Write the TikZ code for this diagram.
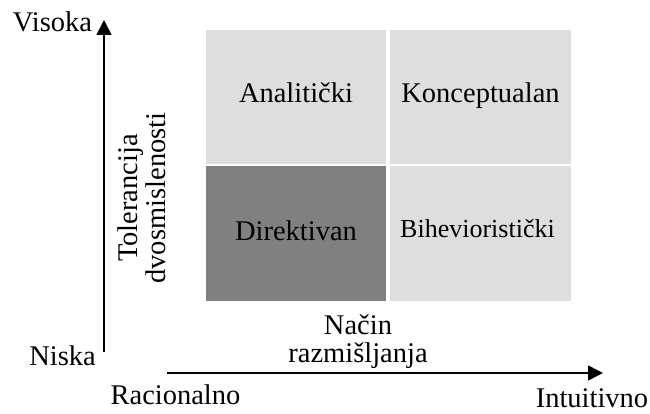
\documentclass[tikz,border=0pt]{standalone}
\usepackage{fontspec}
\setmainfont{Liberation Serif}
\usetikzlibrary{arrows.meta}
\definecolor{lightq}{HTML}{DEDEDE}
\definecolor{darkq}{HTML}{808080}
\begin{document}
\begin{tikzpicture}[x=1pt,y=-1pt,
  lbl/.style={font=\fontsize{28.5}{28}\selectfont,inner sep=0pt,anchor=base},
  smalllbl/.style={font=\fontsize{26}{28}\selectfont,inner sep=0pt,anchor=base},
  axis/.style={line width=1.6pt,-{Triangle[length=15pt,width=15pt]}}]
\useasboundingbox (0,0) rectangle (650,414);
% quadrants
\fill[lightq] (206,30) rectangle (386,164);
\fill[lightq] (390,30) rectangle (571,164);
\fill[darkq] (206,166) rectangle (386,301);
\fill[lightq] (390,166) rectangle (571,301);
\node[lbl] (an) at (296,103) {Analitički};
\node[lbl] (ko) at (480.5,103) {Konceptualan};
\node[lbl] (di) at (296,240) {Direktivan};
\node[smalllbl] (bi) at (477.5,237) {Bihevioristički};
% axes
\coordinate (vbot) at (104,352);
\coordinate (vtop) at (104,20);
\coordinate (hleft) at (167,373);
\coordinate (hright) at (603,373);
\draw[axis] (vbot) -- (vtop);
\draw[axis] (hleft) -- (hright);
% labels
\node[lbl] (vis) at (52.5,32) {Visoka};
\node[lbl] (nis) at (62.5,365) {Niska};
\node[lbl] (rac) at (175.5,404) {Racionalno};
\node[lbl] (int) at (592,407) {Intuitivno};
\node[font=\fontsize{28.5}{27.5}\selectfont,align=center,inner sep=0pt,anchor=base] (nac) at (358,362) {Način\\razmišljanja};
\node[font=\fontsize{28.5}{28}\selectfont,align=center,inner sep=0pt,rotate=90] (tol) at (142,198) {Tolerancija\\dvosmislenosti};
\end{tikzpicture}
\end{document}
